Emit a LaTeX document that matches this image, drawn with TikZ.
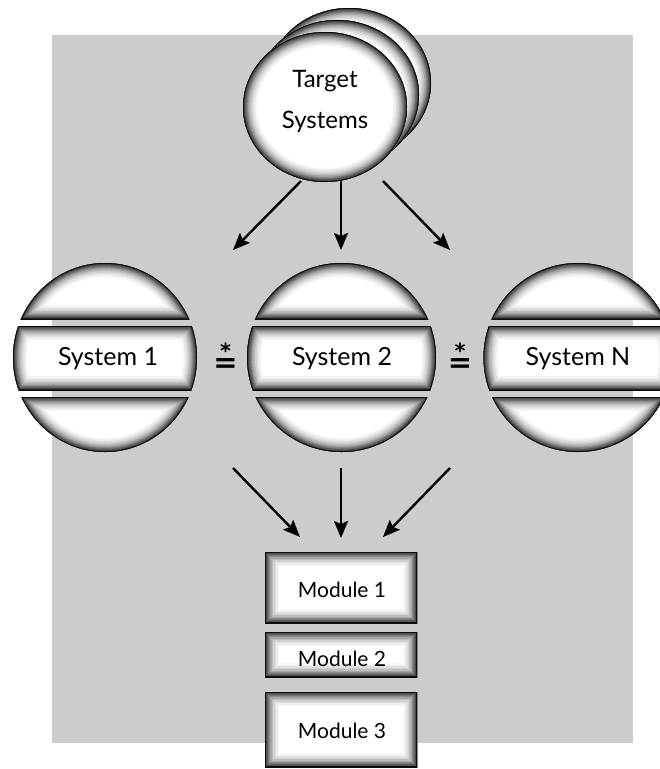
\documentclass[tikz,border=0pt]{standalone}
\usepackage{fontspec}
\setmainfont{Lato}
\newfontfamily\symfont{DejaVu Sans}
\usetikzlibrary{arrows.meta}
\definecolor{panel}{HTML}{CCCCCC}
\tikzset{
  flow/.style={line width=2.4pt, -{Stealth[length=17pt,width=14pt,inset=3pt]}},
  systxt/.style={font=\fontsize{25}{30}\selectfont, inner sep=0pt, anchor=base},
  tgttxt/.style={font=\fontsize{24}{30}\selectfont, inner sep=0pt, anchor=base},
  modtxt/.style={font=\fontsize{21}{25}\selectfont, inner sep=0pt, anchor=base},
  reltxt/.style={font=\symfont\bfseries\fontsize{29}{32}\selectfont, inner sep=0pt, anchor=base},
}
% equals sign with a star above it
\newcommand\stareq{\ooalign{=\cr\hidewidth\raisebox{13.5pt}{\fontsize{21}{24}\selectfont*}\hidewidth\cr}}
% inner bevel: strokes of the outline, wide and pale first, narrow and dark last
\newcommand\bevelrim[1]{%
  \foreach \w/\g in {28/3,25/7,22/12,19/18,16/26,13/35,10/45,8/54,6/62,4/70,2.4/78}{%
    \draw[line width=\w pt, draw=black!\g] #1;}%
  \draw[line width=1.5pt, draw=black!95] #1;}
% one horizontal slice of a disc: #1 centre x, #2 x radius, #3 top y, #4 bottom y
\newcommand\discpiece[4]{%
  \begin{scope}
    \clip (#1,357.5) ellipse [x radius=#2pt, y radius=94.5pt];
    \clip (#1-130,#3) rectangle (#1+130,#4);
    \fill[white] (#1-130,#3) rectangle (#1+130,#4);
    \bevelrim{(#1,357.5) ellipse [x radius=#2pt, y radius=94.5pt] (#1-130,#3) rectangle (#1+130,#4)}
  \end{scope}}
% a disc cut into three slices
\newcommand\slicedisc[2]{%
  \discpiece{#1}{#2}{200}{319}%
  \discpiece{#1}{#2}{326}{390}%
  \discpiece{#1}{#2}{397}{520}}
% one oval of the stack
\newcommand\stackoval[2]{%
  \begin{scope}
    \clip (#1,#2) ellipse [x radius=82pt, y radius=75pt];
    \fill[white] (#1,#2) ellipse [x radius=82pt, y radius=75pt];
    \bevelrim{(#1,#2) ellipse [x radius=82pt, y radius=75pt]}
  \end{scope}}
% a bevelled box: corners (#1,#2) and (#3,#4)
\newcommand\bevelbox[4]{%
  \begin{scope}
    \clip (#1,#2) rectangle (#3,#4);
    \fill[white] (#1,#2) rectangle (#3,#4);
    \bevelrim{(#1,#2) rectangle (#3,#4)}
  \end{scope}}

\begin{document}
\begin{tikzpicture}[x=1pt, y=-1pt]
  \useasboundingbox (0,0) rectangle (660,769);
  \clip (0,0) rectangle (660,769);
  \fill[panel] (52,35) rectangle (633,743);

  % stacked target ovals
  \stackoval{349}{83}
  \stackoval{337}{95}
  \stackoval{325}{107}
  \node[tgttxt] (ts1) at (325,87) {Target};
  \node[tgttxt] (ts2) at (325,128) {Systems};

  % the three systems
  \slicedisc{105}{92}
  \slicedisc{341.5}{94.5}
  \slicedisc{578}{94.5}
  \node[systxt] (s1) at (108,365) {System 1};
  \node[systxt] (s2) at (342,365) {System 2};
  \node[systxt] (sN) at (578,365) {System N};

  % relation marks between the systems
  \node[reltxt] (relA) at (225.5,372) {\stareq};
  \node[reltxt] (relB) at (460,372) {\stareq};

  % module stack
  \bevelbox{265}{552}{417}{623}
  \bevelbox{265}{632}{417}{677}
  \bevelbox{265}{692}{417}{767}
  \node[modtxt] (m1) at (342,597) {Module 1};
  \node[modtxt] (m2) at (342,666) {Module 2};
  \node[modtxt] (m3) at (342,738) {Module 3};

  % arrows from the targets to the systems
  \coordinate (tA) at (301,181);  \coordinate (hA) at (233,250);
  \coordinate (tB) at (341,181);  \coordinate (hB) at (341,250);
  \coordinate (tC) at (383,181);  \coordinate (hC) at (450,250);
  \draw[flow] (tA) -- (hA);
  \draw[flow] (tB) -- (hB);
  \draw[flow] (tC) -- (hC);

  % arrows from the systems to the modules
  \coordinate (uA) at (233,468);  \coordinate (vA) at (300,537);
  \coordinate (uB) at (341,468);  \coordinate (vB) at (341,538);
  \coordinate (uC) at (450,468);  \coordinate (vC) at (383,537);
  \draw[flow] (uA) -- (vA);
  \draw[flow] (uB) -- (vB);
  \draw[flow] (uC) -- (vC);
\end{tikzpicture}
\end{document}
